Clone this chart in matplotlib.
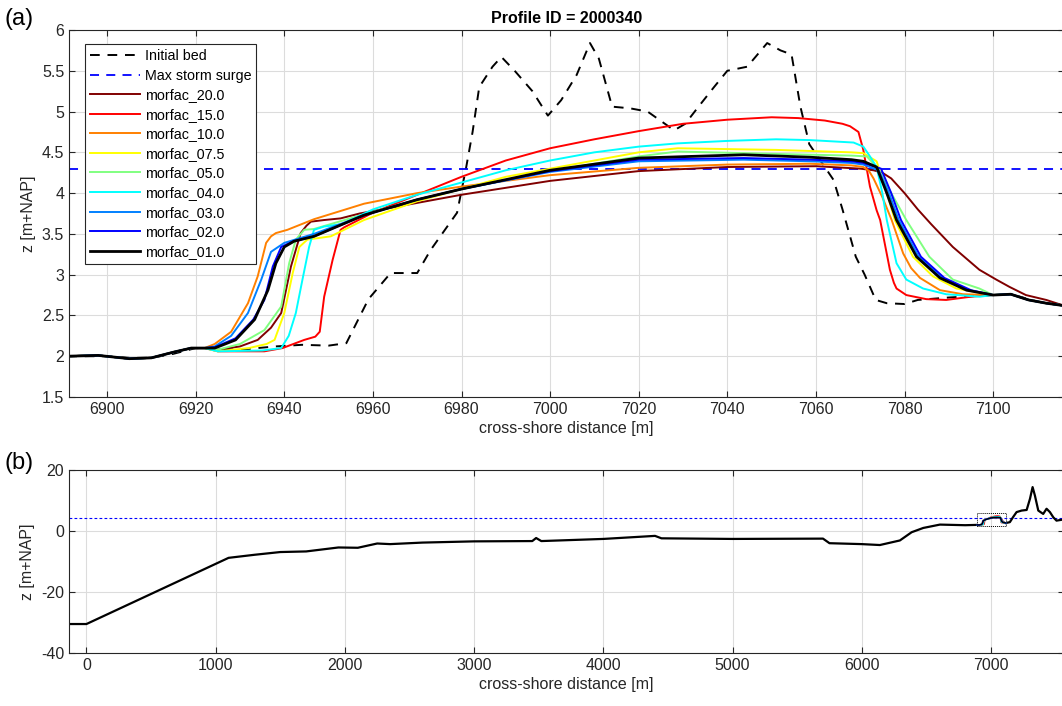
import matplotlib
matplotlib.use("Agg")
import matplotlib.pyplot as plt
from matplotlib.patches import Rectangle

plt.rcParams['font.family'] = ['Liberation Sans', 'DejaVu Sans']
plt.rcParams['axes.unicode_minus'] = False

# ---------------- data: top panel ----------------
profile_title = "Profile ID = 2000340"
surge_level = 4.3

left_x = [6891, 6898, 6905, 6910, 6915, 6919, 6922]
left_z = [2.0, 2.01, 1.97, 1.98, 2.05, 2.1, 2.1]

tail_x = [7100, 7104, 7108, 7112, 7116]
tail_z = [2.75, 2.76, 2.69, 2.65, 2.62]

bed_x = [6891, 6900, 6905, 6910, 6915, 6920, 6930, 6938, 6944, 6950, 6954, 6959, 6964,
         6970, 6973, 6979, 6981, 6982.5, 6984, 6987, 6989, 6992, 6996, 6999.5, 7002.5,
         7006, 7009, 7011, 7014, 7018, 7022, 7028, 7030.5, 7033.5, 7037, 7040, 7044.5,
         7049, 7052, 7054.5, 7056.5, 7058.5, 7062, 7064, 7066, 7069, 7071, 7073.5,
         7076, 7080, 7083, 7090, 7100, 7104, 7110, 7116]
bed_z = [2.0, 2.0, 1.98, 1.98, 2.03, 2.1, 2.08, 2.12, 2.14, 2.13, 2.16, 2.7, 3.02,
         3.02, 3.3, 3.76, 4.3, 4.75, 5.3, 5.55, 5.67, 5.5, 5.25, 4.95, 5.14,
         5.45, 5.84, 5.65, 5.06, 5.04, 5.0, 4.77, 4.85, 5.06, 5.3, 5.5, 5.55,
         5.84, 5.75, 5.7, 5.06, 4.6, 4.32, 4.16, 3.8, 3.22, 3.0, 2.69,
         2.65, 2.64, 2.69, 2.72, 2.75, 2.76, 2.67, 2.62]

names = ["morfac_20.0", "morfac_15.0", "morfac_10.0", "morfac_07.5", "morfac_05.0",
         "morfac_04.0", "morfac_03.0", "morfac_02.0", "morfac_01.0"]
colors = ["#800000", "#ff0000", "#ff8000", "#ffff00", "#80ff80",
          "#00ffff", "#0080ff", "#0000ff", "#000000"]

# middle parts (between common left part and common tail)
mid_x = {
    "morfac_20.0": [6925, 6930, 6934, 6937, 6939.3, 6941.5, 6943.7, 6945, 6946, 6949, 6952.7,
                    6957, 6970, 6980, 7000, 7020, 7040, 7060, 7070, 7073, 7075, 7077,
                    7080, 7083, 7086, 7090.9, 7096.9, 7100.7, 7103.7, 7107.4, 7112, 7116],
    "morfac_15.0": [6925, 6935.5, 6939.6, 6944.5, 6947, 6948, 6949, 6950.9, 6952.7, 6953.5,
                    6960, 6970, 6980, 6990, 7000, 7010, 7020, 7030, 7040, 7050, 7056, 7062,
                    7066, 7067.7, 7069.6, 7070.7, 7072.2, 7073.7, 7074.5, 7076.7, 7077.6,
                    7078.2, 7080.4, 7084.9, 7089.4, 7095],
    "morfac_10.0": [6924.3, 6928, 6931.8, 6934, 6935.9, 6937, 6938.1, 6940.7, 6946.7, 6958,
                    6970, 6980, 7000, 7020, 7040, 7058.7, 7068, 7070.7, 7072, 7073,
                    7075, 7077.1, 7079.7, 7081.5, 7083.5, 7088, 7093.2],
    "morfac_07.5": [6925, 6932, 6936, 6937.8, 6940, 6941.9, 6943.4, 6945.2, 6950.5, 6958,
                    6970, 6980, 6990, 7000, 7010, 7020, 7028.8, 7051, 7068, 7070.7, 7073.7,
                    7075.5, 7077.8, 7081.9, 7086.4, 7091.7, 7096.9],
    "morfac_05.0": [6925, 6930, 6935.5, 6939.3, 6941.1, 6942.6, 6944.5, 6946.7, 6958, 6970,
                    6980, 7000, 7020, 7028.8, 7051, 7068, 7071.5, 7074, 7077, 7080.4,
                    7085.6, 7090.9, 7096.9],
    "morfac_04.0": [6925, 6935, 6939.3, 6941, 6942.6, 6944.1, 6945.6, 6946.7, 6949, 6953,
                    6960, 6970, 6980, 6990, 7000, 7010, 7020, 7028.8, 7040, 7051, 7058.7,
                    7068.5, 7070.7, 7072.2, 7073.7, 7075, 7076, 7078.2, 7080.4, 7084.2,
                    7089.4, 7097],
    "morfac_03.0": [6924.3, 6928, 6931.8, 6934.8, 6937, 6938.9, 6940, 6946.7, 6958, 6970,
                    6980, 7000, 7020, 7043.7, 7058.7, 7068, 7070.7, 7074.2, 7076.5,
                    7078.7, 7083.2, 7088.5, 7094.5],
    "morfac_02.0": [6924.3, 6929, 6933, 6935.5, 6937.4, 6939.3, 6942, 6946.7, 6958, 6970,
                    6980, 7000, 7020, 7043.7, 7058.7, 7068, 7070.7, 7074.7, 7077,
                    7079.2, 7083.7, 7089, 7095],
    "morfac_01.0": [6924.3, 6929, 6933.3, 6936.3, 6938.1, 6940, 6942.2, 6946.7, 6958, 6970,
                    6980, 7000, 7020, 7043.7, 7058.7, 7068, 7070.7, 7073.7, 7076,
                    7078.2, 7082.7, 7088, 7094],
}
mid_z = {
    "morfac_20.0": [2.08, 2.12, 2.2, 2.35, 2.53, 3.1, 3.51, 3.6, 3.65, 3.67, 3.69,
                    3.75, 3.88, 3.98, 4.15, 4.27, 4.32, 4.33, 4.3, 4.28, 4.25, 4.18,
                    4.0, 3.8, 3.62, 3.34, 3.06, 2.94, 2.85, 2.75, 2.69, 2.62],
    "morfac_15.0": [2.06, 2.06, 2.1, 2.2, 2.24, 2.3, 2.73, 3.18, 3.55, 3.58,
                    3.76, 3.98, 4.2, 4.4, 4.55, 4.66, 4.76, 4.85, 4.9, 4.93, 4.92, 4.89,
                    4.85, 4.82, 4.75, 4.53, 4.08, 3.79, 3.67, 3.06, 2.9,
                    2.83, 2.75, 2.7, 2.69, 2.73],
    "morfac_10.0": [2.15, 2.3, 2.65, 2.98, 3.39, 3.47, 3.51, 3.55, 3.68, 3.87,
                    4.0, 4.08, 4.22, 4.31, 4.35, 4.36, 4.34, 4.32, 4.27, 4.18,
                    3.95, 3.67, 3.26, 3.08, 2.96, 2.81, 2.76],
    "morfac_07.5": [2.06, 2.1, 2.15, 2.2, 2.53, 3.02, 3.34, 3.43, 3.47, 3.67,
                    3.9, 4.05, 4.2, 4.3, 4.4, 4.5, 4.55, 4.53, 4.5, 4.49, 4.39,
                    4.1, 3.67, 3.22, 2.98, 2.83, 2.78],
    "morfac_05.0": [2.08, 2.15, 2.32, 2.61, 3.14, 3.43, 3.55, 3.56, 3.74, 3.92,
                    4.05, 4.27, 4.45, 4.51, 4.48, 4.46, 4.45, 4.3, 4.0, 3.67,
                    3.22, 2.94, 2.83],
    "morfac_04.0": [2.06, 2.07, 2.1, 2.25, 2.53, 2.94, 3.34, 3.55, 3.59, 3.62,
                    3.8, 3.98, 4.13, 4.28, 4.4, 4.5, 4.57, 4.61, 4.64, 4.66, 4.65,
                    4.62, 4.57, 4.45, 4.32, 4.0, 3.67, 3.14, 2.94, 2.83, 2.76,
                    2.73],
    "morfac_03.0": [2.12, 2.25, 2.53, 2.94, 3.28, 3.35, 3.39, 3.5, 3.73, 3.92,
                    4.05, 4.26, 4.39, 4.41, 4.39, 4.37, 4.35, 4.28, 4.0, 3.67,
                    3.22, 2.96, 2.81],
    "morfac_02.0": [2.11, 2.22, 2.45, 2.69, 3.1, 3.34, 3.41, 3.47, 3.73, 3.92,
                    4.05, 4.27, 4.41, 4.43, 4.41, 4.39, 4.37, 4.3, 4.0, 3.67,
                    3.22, 2.96, 2.81],
    "morfac_01.0": [2.1, 2.2, 2.45, 2.81, 3.14, 3.34, 3.41, 3.47, 3.73, 3.92,
                    4.05, 4.28, 4.43, 4.47, 4.44, 4.41, 4.39, 4.32, 4.0, 3.67,
                    3.22, 2.96, 2.81],
}

# ---------------- data: bottom panel (full profile) ----------------
off_x = [-135, 0, 1100, 1300, 1500, 1700, 1950, 2100, 2250, 2350, 2600, 3000, 3450, 3480,
         3520, 4000, 4400, 4450, 5000, 5700, 5750, 6000, 6140, 6295, 6386, 6476, 6605,
         6800, 6891]
off_z = [-30.5, -30.5, -8.8, -7.8, -6.9, -6.7, -5.4, -5.5, -4.1, -4.3, -3.8, -3.4, -3.3,
         -2.3, -3.3, -2.6, -1.6, -2.4, -2.6, -2.5, -4.0, -4.3, -4.6, -3.1, -0.4, 1.0, 2.1,
         1.9, 2.0]
on_x = [7116, 7146, 7170, 7198, 7237, 7276, 7302, 7322, 7340, 7366, 7404, 7430, 7456,
        7482, 7507, 7550]
on_z = [2.62, 2.9, 4.5, 6.2, 6.7, 6.9, 10.6, 14.4, 11.6, 6.7, 5.6, 7.3, 6.2, 4.5, 3.4, 3.7]

# ---------------- figure ----------------
W, H = 1062, 706
fig = plt.figure(figsize=(W / 100, H / 100), dpi=100)

def frac(l, t, r, b):
    return [l / W, 1 - b / H, (r - l) / W, (b - t) / H]

ax1 = fig.add_axes(frac(69, 30, 1064, 397))
ax2 = fig.add_axes(frac(69, 470, 1064, 653))

tick_col = "#262626"
grid_col = "#dcdcdc"

for ax in (ax1, ax2):
    ax.grid(True, color=grid_col, lw=0.8)
    ax.set_axisbelow(True)
    ax.tick_params(direction="in", colors=tick_col, labelsize=11.5, length=4, width=0.8,
                   top=True, right=True)
    for s in ax.spines.values():
        s.set_color(tick_col)
        s.set_linewidth(0.8)

def series(n):
    if n == "morfac_20.0":
        return left_x + mid_x[n], left_z + mid_z[n]
    return left_x + mid_x[n] + tail_x, left_z + mid_z[n] + tail_z

# top panel
ax1.plot(bed_x, bed_z, color="black", ls=(0, (5, 4)), lw=1.4, label="Initial bed")
ax1.axhline(surge_level, color="#0000ff", ls=(0, (5, 4)), lw=1.3, label="Max storm surge")
for n, c in zip(names, colors):
    xs, zs = series(n)
    ax1.plot(xs, zs, color=c, lw=2.0 if n == "morfac_01.0" else 1.4, label=n)

ax1.set_xlim(6891.4, 7116)
ax1.set_ylim(1.5, 6)
ax1.set_xticks(range(6900, 7101, 20))
ax1.set_yticks([1.5, 2, 2.5, 3, 3.5, 4, 4.5, 5, 5.5, 6])
ax1.set_yticklabels(["1.5", "2", "2.5", "3", "3.5", "4", "4.5", "5", "5.5", "6"])
ax1.set_xlabel("cross-shore distance [m]", fontsize=11.5, color=tick_col, labelpad=3)
ax1.set_ylabel("z [m+NAP]", fontsize=11.5, color=tick_col, labelpad=4)
ax1.set_title(profile_title, fontsize=11.5, fontweight="bold", color="black", pad=5)

leg = ax1.legend(loc="upper left", bbox_to_anchor=(0.0165, 0.962), borderaxespad=0,
                 fontsize=10.3, frameon=True, fancybox=False, framealpha=1,
                 handlelength=3.5, handletextpad=0.3, labelspacing=0.39,
                 borderpad=0.35)
leg.get_frame().set_edgecolor("#262626")
leg.get_frame().set_linewidth(0.8)

# bottom panel
ax2.axhline(surge_level, color="#0000ff", ls=(0, (2.5, 2)), lw=0.8)
ax2.plot(off_x, off_z, color="black", lw=1.6)
ax2.plot(on_x, on_z, color="black", lw=1.6)
for n, c in zip(names, colors):
    xs, zs = series(n)
    ax2.plot(xs, zs, color=c, lw=1.0)
ax2.add_patch(Rectangle((6891.4, 1.5), 7116 - 6891.4, 6 - 1.5, fill=False,
                        ls=(0, (1, 1)), lw=0.7, ec="black"))
ax2.set_xlim(-135, 7565)
ax2.set_ylim(-40, 20)
ax2.set_xticks(range(0, 7001, 1000))
ax2.set_yticks([-40, -20, 0, 20])
ax2.set_xlabel("cross-shore distance [m]", fontsize=11.5, color=tick_col, labelpad=3)
ax2.set_ylabel("z [m+NAP]", fontsize=11.5, color=tick_col, labelpad=4)

fig.text(5 / W, 1 - 19 / H, "(a)", fontsize=17, va="center", ha="left")
fig.text(5 / W, 1 - 463 / H, "(b)", fontsize=17, va="center", ha="left")

fig.savefig("out.png", dpi=100)
